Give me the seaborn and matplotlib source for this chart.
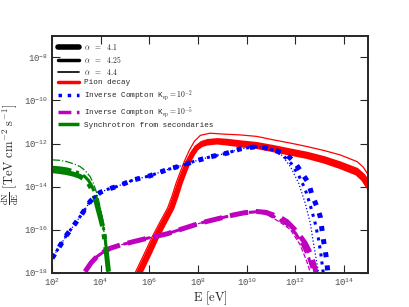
import numpy as np
import matplotlib
matplotlib.use('Agg')
import matplotlib.pyplot as plt
from matplotlib.lines import Line2D
import seaborn as sns

# log10(E / eV) and log10(dN/dE)
# --- pion decay ---
pion_41_logE = [5.62, 6.0, 6.31, 6.65, 6.93, 7.1, 7.27, 7.45, 7.61, 7.8, 7.95, 8.15, 8.37, 8.78, 9.2, 9.74, 10.42, 11.1, 11.8, 12.48, 13.2, 13.85, 14.54, 14.8, 15.0]
pion_41_logF = [-18.0, -17.1, -16.33, -15.6, -15.0, -14.45, -13.84, -13.3, -12.84, -12.45, -12.21, -12.05, -11.98, -11.93, -11.98, -12.06, -12.14, -12.29, -12.45, -12.6, -12.82, -13.07, -13.38, -13.65, -14.0]
pion_425_logE = [5.52, 5.9, 6.22, 6.56, 6.85, 7.02, 7.2, 7.38, 7.55, 7.75, 7.92, 8.15, 8.4, 8.8, 9.2, 9.74, 10.42, 11.1, 11.8, 12.48, 13.2, 13.85, 14.54, 14.8, 15.0]
pion_425_logF = [-18.0, -17.1, -16.33, -15.6, -15.0, -14.45, -13.84, -13.3, -12.84, -12.42, -12.15, -11.95, -11.86, -11.82, -11.85, -11.92, -12.0, -12.14, -12.3, -12.45, -12.66, -12.9, -13.2, -13.45, -13.75]
pion_44_logE = [5.42, 5.8, 6.12, 6.46, 6.75, 6.93, 7.1, 7.28, 7.45, 7.65, 7.85, 8.1, 8.5, 9.0, 9.74, 10.42, 11.1, 11.8, 12.48, 13.2, 13.85, 14.54, 14.8, 15.0]
pion_44_logF = [-18.0, -17.1, -16.33, -15.6, -15.0, -14.45, -13.84, -13.3, -12.8, -12.3, -11.9, -11.62, -11.52, -11.56, -11.6, -11.67, -11.83, -11.98, -12.14, -12.33, -12.53, -12.84, -13.1, -13.46]

# --- inverse Compton, Kep = 1e-2 ---
ic2_41_logE = [2.0, 2.3, 2.6, 2.9, 3.15, 3.4, 3.56, 3.75, 3.98, 4.3, 4.66, 5.35, 6.03, 6.72, 7.4, 7.81, 8.5, 9.19, 9.74, 10.3, 10.56, 11.1, 11.66, 12.0, 12.28, 12.55, 12.69, 12.89, 13.03, 13.1, 13.16, 13.23, 13.3, 13.34]
ic2_41_logF = [-17.33, -16.8, -16.25, -15.8, -15.4, -14.98, -14.7, -14.48, -14.27, -14.12, -14.0, -13.69, -13.5, -13.22, -13.0, -12.84, -12.62, -12.45, -12.25, -12.16, -12.14, -12.29, -12.53, -12.91, -13.38, -13.84, -14.39, -14.93, -15.4, -16.0, -16.48, -16.94, -17.49, -18.0]
ic2_425_logE = [2.0, 2.3, 2.6, 2.9, 3.15, 3.4, 3.56, 3.75, 3.98, 4.3, 4.66, 5.35, 6.03, 6.72, 7.4, 7.81, 8.5, 9.19, 9.74, 10.3, 10.56, 11.1, 11.5, 11.85, 12.15, 12.4, 12.6, 12.8, 12.95, 13.05, 13.15]
ic2_425_logF = [-17.33, -16.8, -16.25, -15.8, -15.4, -14.98, -14.7, -14.48, -14.27, -14.12, -14.0, -13.69, -13.5, -13.22, -13.0, -12.84, -12.62, -12.45, -12.25, -12.16, -12.15, -12.3, -12.55, -12.95, -13.5, -14.1, -14.8, -15.6, -16.4, -17.1, -18.0]
ic2_44_logE = [2.0, 2.3, 2.6, 2.9, 3.15, 3.4, 3.56, 3.75, 3.98, 4.3, 4.66, 5.35, 6.03, 6.72, 7.4, 7.81, 8.5, 9.19, 9.74, 10.3, 10.56, 11.0, 11.38, 11.8, 12.14, 12.41, 12.62, 12.75, 12.89, 12.96]
ic2_44_logF = [-17.33, -16.8, -16.25, -15.8, -15.4, -14.98, -14.7, -14.48, -14.27, -14.12, -14.0, -13.69, -13.5, -13.22, -13.0, -12.84, -12.62, -12.45, -12.25, -12.16, -12.16, -12.3, -12.45, -13.07, -13.84, -14.77, -15.7, -16.63, -17.56, -18.0]

# --- inverse Compton, Kep = 1e-5 ---
ic5_41_logE = [3.36, 3.6, 3.84, 4.1, 4.39, 4.8, 5.35, 6.0, 6.72, 7.4, 8.09, 8.8, 9.46, 9.9, 10.42, 10.8, 11.1, 11.4, 11.66, 12.07, 12.41, 12.62, 12.75, 12.86]
ic5_41_logF = [-17.95, -17.55, -17.26, -17.05, -16.87, -16.72, -16.56, -16.38, -16.2, -15.95, -15.7, -15.5, -15.32, -15.22, -15.16, -15.2, -15.32, -15.45, -15.63, -16.1, -16.63, -17.1, -17.56, -18.0]
ic5_425_logE = [3.36, 3.6, 3.84, 4.1, 4.39, 4.8, 5.35, 6.0, 6.72, 7.4, 8.09, 8.8, 9.46, 9.9, 10.42, 10.8, 11.1, 11.66, 12.0, 12.3, 12.55, 12.75]
ic5_425_logF = [-17.95, -17.55, -17.26, -17.05, -16.87, -16.72, -16.56, -16.38, -16.2, -15.95, -15.7, -15.5, -15.32, -15.22, -15.17, -15.25, -15.38, -15.75, -16.15, -16.7, -17.3, -18.0]
ic5_44_logE = [3.36, 3.6, 3.84, 4.1, 4.39, 4.8, 5.35, 6.0, 6.72, 7.4, 8.09, 8.8, 9.46, 9.9, 10.42, 10.8, 11.1, 11.5, 11.8, 12.2, 12.48, 12.62]
ic5_44_logF = [-17.95, -17.55, -17.26, -17.05, -16.87, -16.72, -16.56, -16.38, -16.2, -15.95, -15.7, -15.5, -15.32, -15.22, -15.2, -15.3, -15.47, -15.75, -16.0, -16.7, -17.49, -18.0]

# --- synchrotron from secondaries ---
syn_41_logE = [2.0, 2.3, 2.6, 2.9, 3.15, 3.35, 3.49, 3.6, 3.7, 3.8, 3.9, 4.0, 4.11, 4.22, 4.32]
syn_41_logF = [-13.26, -13.3, -13.35, -13.43, -13.53, -13.68, -13.84, -14.05, -14.31, -14.65, -15.08, -15.5, -16.0, -16.94, -17.95]
syn_425_logE = [2.0, 2.3, 2.6, 2.9, 3.15, 3.35, 3.5, 3.62, 3.74, 3.85, 3.95, 4.05, 4.15, 4.24, 4.31]
syn_425_logF = [-13.1, -13.13, -13.18, -13.27, -13.38, -13.54, -13.72, -13.95, -14.25, -14.62, -15.05, -15.55, -16.15, -16.95, -17.95]
syn_44_logE = [2.0, 2.3, 2.6, 2.9, 3.15, 3.35, 3.56, 3.7, 3.84, 3.95, 4.05, 4.12, 4.18, 4.28]
syn_44_logF = [-12.76, -12.78, -12.84, -12.95, -13.07, -13.25, -13.53, -13.85, -14.31, -14.8, -15.4, -15.95, -16.63, -17.95]

alpha_labels = [r'$\alpha\ \ =\ \ 4.1$', r'$\alpha\ \ =\ \ 4.25$', r'$\alpha\ \ =\ \ 4.4$']
comp_labels = ['Pion decay',
               r'Inverse Compton K$_{\rm ep}=10^{-2}$',
               r'Inverse Compton K$_{\rm ep}=10^{-5}$',
               'Synchrotron from secondaries']
x_ticks = [1e2, 1e4, 1e6, 1e8, 1e10, 1e12, 1e14]
y_ticks = [1e-18, 1e-16, 1e-14, 1e-12, 1e-10, 1e-8]

sns.set_style('ticks')
plt.rcParams['mathtext.fontset'] = 'cm'
plt.rcParams['font.family'] = ['Liberation Mono', 'DejaVu Sans Mono']

widths = [3.6, 2.2, 0.9]
curves = {
    'pion': (('r', '-'), [(pion_41_logE, pion_41_logF), (pion_425_logE, pion_425_logF), (pion_44_logE, pion_44_logF)]),
    'ic5': (('m', '--'), [(ic5_41_logE, ic5_41_logF), (ic5_425_logE, ic5_425_logF), (ic5_44_logE, ic5_44_logF)]),
    'syn': (('g', '-.'), [(syn_41_logE, syn_41_logF), (syn_425_logE, syn_425_logF), (syn_44_logE, syn_44_logF)]),
    'ic2': (('b', ':'), [(ic2_41_logE, ic2_41_logF), (ic2_425_logE, ic2_425_logF), (ic2_44_logE, ic2_44_logF)]),
}

fig = plt.figure(figsize=(4.1, 3.07), dpi=100)
ax = fig.add_axes([0.127, 0.112, 0.771, 0.771])
ax.set_xscale('log')
ax.set_yscale('log')

for name, ((col, ls), series) in curves.items():
    for (lx, ly), lw in zip(series, widths):
        sns.lineplot(x=10 ** np.array(lx), y=10 ** np.array(ly), ax=ax,
                     color=col, linestyle=ls, lw=lw, legend=False)

ax.set_xlim(1e2, 1e15)
ax.set_ylim(1e-18, 1e-7)
ax.set_xticks(x_ticks)
ax.set_yticks(y_ticks)
ax.minorticks_off()
ax.tick_params(direction='in', length=6, width=0.8, labelsize=6.5,
               labelcolor='0.3', top=True, right=True, pad=3)
for sp in ax.spines.values():
    sp.set_linewidth(1.4)

ax.set_xlabel(r'$\mathrm{E\ [eV]}$', fontsize=9, labelpad=1)
ax.set_ylabel(r'$\frac{\mathrm{dN}}{\mathrm{dE}}\ [\mathrm{TeV\ cm^{-2}\ s^{-1}}]$',
              fontsize=9, labelpad=2)

handles = [Line2D([], [], color='k', lw=w) for w in [4.0, 2.5, 1.2]]
handles += [Line2D([], [], color='r', lw=2.5, ls='-'),
            Line2D([], [], color='b', lw=2.5, ls=':'),
            Line2D([], [], color='m', lw=2.5, ls='--'),
            Line2D([], [], color='g', lw=2.5, ls='-.')]
ax.legend(handles, alpha_labels + comp_labels, loc='upper left', frameon=False,
          fontsize=5.5, handlelength=2.8, labelspacing=0.28, borderaxespad=0.35,
          handletextpad=0.6)

fig.savefig('out.png', dpi=100)
